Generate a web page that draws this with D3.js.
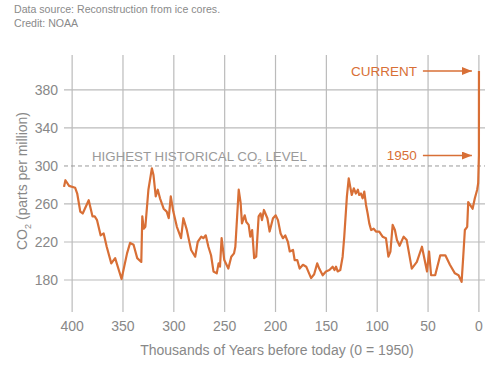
<!DOCTYPE html>
<html>
<head>
<meta charset="utf-8">
<script src="https://cdn.jsdelivr.net/npm/d3@7"></script>
<style>
  body { margin: 0; background: #fff; }
  svg { font-family: Arial, "Liberation Sans", Helvetica, sans-serif; display: block; }
</style>
</head>
<body>
<div id="chart"></div>
<script>
// thousands of years before 1950
var kyr = [408, 406.6, 403, 397, 395, 392, 389.6, 383.7, 380, 377.8, 375.5, 372, 369, 366, 361.5, 357.7, 351.4,
  346, 343, 339.6, 336, 332, 331, 329.6, 328, 325, 321.6, 320, 317.8, 315.8, 313.6, 310, 307, 305, 303, 300.5,
  297, 292.9, 290.6, 287.3, 283, 279, 276.5, 273, 271, 268.6, 266, 263.4, 261, 257.8, 256, 254.6, 253, 250.4,
  246.4, 243.5, 240.8, 239.5, 236.2, 234.3, 233, 230.3, 228.7, 226.4, 224.8, 223, 221, 219, 216.6, 214.7, 213.3,
  211.4, 208, 205.8, 202.5, 199.8, 197.6, 195, 192.7, 190.4, 187.8, 186, 182.8, 181.2, 178.6, 176.3, 173, 169.8,
  167, 165, 162, 159, 157, 153.6, 150.4, 147, 143.8, 142, 140.5, 138.9, 136.3, 134, 132.4, 129.8, 128, 126.5,
  125, 123, 121, 119, 117.7, 116, 114.3, 112.7, 111, 109.4, 107.8, 106, 103.5, 101.2, 98, 94.7, 91.4, 89, 87,
  84.8, 82.6, 80.6, 78, 74, 71, 66, 61, 56, 51, 49, 47, 43, 38, 33, 28.5, 23.6, 20, 17, 15.4, 13.8, 11.5, 10.5,
  6.2, 4, 1.7, 0.7, 0, -0.06];
var co2 = [278, 285, 279, 277, 271, 252, 250, 264, 247, 247, 243, 227, 229, 215, 197.5, 203, 181,
  208, 219, 217, 203, 199, 247, 234, 236, 275, 297.5, 290.5, 268, 275, 266, 255, 252, 245, 268, 252,
  236, 224, 245, 233, 211.6, 204.5, 220, 225.6, 224, 227, 215, 206, 189, 187, 197.5, 194, 224, 201,
  192, 204.5, 208, 215, 275, 261, 239.6, 248, 241, 238, 225.6, 232.6, 203, 204.5, 247, 250, 243,
  253.7, 245, 231, 245, 248, 243, 229, 224, 227, 220, 210, 211.6, 201, 201, 192, 196, 194,
  187, 182, 186, 197.5, 192, 185, 189, 190.5, 194, 190.5, 194, 189, 190.5, 204.5, 225.6, 268, 287, 278,
  269.5, 276.5, 271, 275, 269.5, 271, 266, 273, 259, 250, 239.6, 232.6, 234, 231, 231, 225.6, 224, 204.5, 210,
  238, 232.6, 222, 216, 225.6, 222, 192, 199, 215, 189, 210, 185, 185, 206, 206, 196, 187, 185, 178, 204.5, 232.6, 236, 262,
  255, 266, 275, 282, 311, 400];

var xTicks = [400, 350, 300, 250, 200, 150, 100, 50, 0];
var yTicks = [180, 220, 260, 300, 340, 380];
var highest = 300;
var labels = [{text: "CURRENT", value: 400}, {text: "1950", value: 311}];

var width = 500, height = 372;
var orange = "#d86f36";

var svg = d3.select("#chart").append("svg")
  .attr("width", width)
  .attr("height", height);

var x = d3.scaleLinear().domain([408, -6]).range([64, 485]);
var y = d3.scaleLinear().domain([146.3, 416.8]).range([312, 55]);

// source note
svg.append("text").attr("x", 14).attr("y", 13)
  .attr("font-size", 10.6).attr("fill", "#8a8a8a")
  .text("Data source: Reconstruction from ice cores.");
svg.append("text").attr("x", 14).attr("y", 27)
  .attr("font-size", 10.6).attr("fill", "#8a8a8a")
  .text("Credit: NOAA");

// grid
svg.append("g").selectAll("line")
  .data(xTicks).enter().append("line")
  .attr("x1", function(d){ return x(d); })
  .attr("x2", function(d){ return x(d); })
  .attr("y1", 55).attr("y2", 312)
  .attr("stroke", "#bbb").attr("stroke-width", 1.2);

svg.append("g").selectAll("line")
  .data(yTicks.filter(function(d){ return d !== highest; })).enter().append("line")
  .attr("x1", 64).attr("x2", 485)
  .attr("y1", function(d){ return y(d); })
  .attr("y2", function(d){ return y(d); })
  .attr("stroke", "#bbb").attr("stroke-width", 1.2);

svg.append("line")
  .attr("x1", 64).attr("x2", 485)
  .attr("y1", y(highest)).attr("y2", y(highest))
  .attr("stroke", "#999").attr("stroke-width", 1)
  .attr("stroke-dasharray", "4,3");

var hl = svg.append("text").attr("x", 92).attr("y", y(highest) - 5)
  .attr("font-size", 13.3).attr("fill", "#9a9a9a");
hl.append("tspan").text("HIGHEST HISTORICAL CO");
hl.append("tspan").attr("font-size", 8).attr("dy", 3).text("2");
hl.append("tspan").attr("dy", -3).text(" LEVEL");

// tick labels
svg.append("g").selectAll("text")
  .data(yTicks).enter().append("text")
  .attr("x", 58).attr("y", function(d){ return y(d); })
  .attr("dy", "0.35em").attr("text-anchor", "end")
  .attr("font-size", 14).attr("fill", "#888")
  .text(function(d){ return d; });

svg.append("g").selectAll("text")
  .data(xTicks).enter().append("text")
  .attr("x", function(d){ return x(d); }).attr("y", 331)
  .attr("text-anchor", "middle")
  .attr("font-size", 14).attr("fill", "#888")
  .text(function(d){ return d; });

svg.append("text").attr("x", 277).attr("y", 355)
  .attr("text-anchor", "middle").attr("font-size", 14).attr("fill", "#888")
  .text("Thousands of Years before today (0 = 1950)");

var yt = svg.append("text")
  .attr("transform", "translate(27,181) rotate(-90)")
  .attr("text-anchor", "middle").attr("font-size", 14).attr("fill", "#888");
yt.append("tspan").text("CO");
yt.append("tspan").attr("font-size", 9).attr("dy", 4).text("2");
yt.append("tspan").attr("dy", -4).text(" (parts per million)");

// data line
var pts = kyr.map(function(k, i){ return [k, co2[i]]; });
var line = d3.line()
  .x(function(d){ return x(d[0]); })
  .y(function(d){ return y(d[1]); });

svg.append("path")
  .datum(pts)
  .attr("d", line)
  .attr("fill", "none")
  .attr("stroke", orange)
  .attr("stroke-width", 2.2)
  .attr("stroke-linejoin", "round");

// arrows
svg.append("defs").append("marker")
  .attr("id", "arr")
  .attr("viewBox", "0 0 10 8")
  .attr("refX", 10).attr("refY", 4)
  .attr("markerWidth", 10).attr("markerHeight", 8)
  .attr("markerUnits", "userSpaceOnUse")
  .attr("orient", "auto")
  .append("path").attr("d", "M0,0L10,4L0,8Z").attr("fill", orange);

var ann = svg.append("g").selectAll("g").data(labels).enter().append("g");
ann.append("text")
  .attr("x", x(0) - 62).attr("y", function(d){ return y(d.value); })
  .attr("dy", "0.35em").attr("text-anchor", "end")
  .attr("font-size", 13.5).attr("fill", orange)
  .text(function(d){ return d.text; });
ann.append("line")
  .attr("x1", x(0) - 56).attr("x2", x(0) - 7)
  .attr("y1", function(d){ return y(d.value); })
  .attr("y2", function(d){ return y(d.value); })
  .attr("stroke", orange).attr("stroke-width", 1.5)
  .attr("marker-end", "url(#arr)");
</script>
</body>
</html>
